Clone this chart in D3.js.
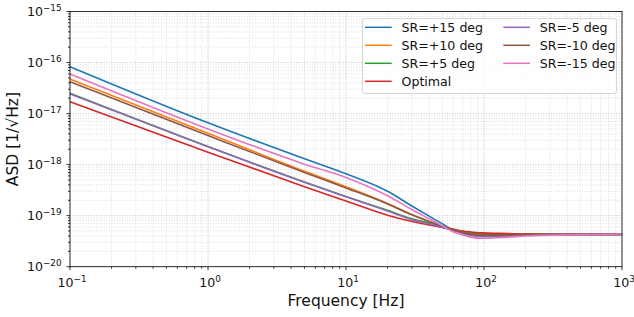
<!DOCTYPE html>
<html>
<head>
<meta charset="utf-8">
<script src="https://cdn.jsdelivr.net/npm/d3@7"></script>
<style>
  body { margin: 0; background: #fff; }
  svg { font-family: "DejaVu Sans", sans-serif; }
</style>
</head>
<body>
<script>
const freqs = [0.1, 1, 5, 10, 20, 30, 40, 50, 60, 70, 80, 100, 150, 200, 500, 1000];

const srP15 = [8.3e-17, 6.6e-18, 1.3e-18, 6.6e-19, 3.0e-19, 1.55e-19, 9.8e-20, 6.9e-20, 5.25e-20, 4.7e-20, 4.4e-20, 4.3e-20, 4.3e-20, 4.3e-20, 4.3e-20, 4.3e-20];
const srP10 = [4.75e-17, 4.1e-18, 7.4e-19, 3.7e-19, 1.74e-19, 1.05e-19, 7.7e-20, 6.2e-20, 5.4e-20, 4.9e-20, 4.5e-20, 4.3e-20, 4.3e-20, 4.3e-20, 4.3e-20, 4.3e-20];
const srP5  = [2.5e-17, 2.26e-18, 4.55e-19, 2.37e-19, 1.27e-19, 8.7e-20, 7.2e-20, 6.0e-20, 5.2e-20, 4.7e-20, 4.5e-20, 4.3e-20, 4.3e-20, 4.3e-20, 4.3e-20, 4.3e-20];
const optimal = [1.71e-17, 1.74e-18, 3.7e-19, 1.94e-19, 1.02e-19, 7.7e-20, 6.6e-20, 5.9e-20, 5.4e-20, 5.0e-20, 4.8e-20, 4.6e-20, 4.45e-20, 4.35e-20, 4.3e-20, 4.3e-20];
const srM5  = [2.42e-17, 2.24e-18, 4.5e-19, 2.34e-19, 1.23e-19, 8.3e-20, 6.9e-20, 5.9e-20, 5.1e-20, 4.5e-20, 4.1e-20, 3.85e-20, 3.9e-20, 4.1e-20, 4.3e-20, 4.3e-20];
const srM10 = [4.2e-17, 3.7e-18, 7.0e-19, 3.5e-19, 1.7e-19, 1.04e-19, 7.7e-20, 6.2e-20, 5.3e-20, 4.7e-20, 4.3e-20, 4.1e-20, 4.15e-20, 4.2e-20, 4.3e-20, 4.3e-20];
const srM15 = [5.96e-17, 5.0e-18, 1.02e-18, 5.6e-19, 2.45e-19, 1.32e-19, 8.7e-20, 6.3e-20, 4.8e-20, 4.2e-20, 3.8e-20, 3.6e-20, 3.8e-20, 4.0e-20, 4.25e-20, 4.3e-20];

const seriesNames = ["SR=+15 deg", "SR=+10 deg", "SR=+5 deg", "Optimal", "SR=-5 deg", "SR=-10 deg", "SR=-15 deg"];
const seriesVals = [srP15, srP10, srP5, optimal, srM5, srM10, srM15];
const colors = ["#1f77b4", "#ff7f0e", "#2ca02c", "#d62728", "#9467bd", "#8c564b", "#e377c2"];

const xTickExp = [-1, 0, 1, 2, 3];
const yTickExp = [-20, -19, -18, -17, -16, -15];

const width = 634, height = 317;
const mLeft = 70, mRight = 622, mTop = 11.5, mBottom = 266.7;

const svg = d3.select("body").append("svg")
    .attr("width", width).attr("height", height);

const x = d3.scaleLog().domain([0.1, 1000]).range([mLeft, mRight]);
const y = d3.scaleLog().domain([1e-20, 1e-15]).range([mBottom, mTop]);

const isPow = d => Math.abs(Math.log10(d) - Math.round(Math.log10(d))) < 1e-6;
const xMinor = x.ticks().filter(d => !isPow(d));
const yMinor = y.ticks().filter(d => !isPow(d));
const xMajor = xTickExp.map(e => Math.pow(10, e));
const yMajor = yTickExp.map(e => Math.pow(10, e));

// grid
let grid = svg.append("g");
grid.selectAll(".xmin").data(xMinor).enter().append("line")
    .attr("x1", d => x(d)).attr("x2", d => x(d)).attr("y1", mTop).attr("y2", mBottom)
    .attr("stroke", "#d6d6d6").attr("stroke-width", 0.8).attr("stroke-dasharray", "1,1.6");
grid.selectAll(".ymin").data(yMinor).enter().append("line")
    .attr("y1", d => y(d)).attr("y2", d => y(d)).attr("x1", mLeft).attr("x2", mRight)
    .attr("stroke", "#d6d6d6").attr("stroke-width", 0.8).attr("stroke-dasharray", "1,1.6");
grid.selectAll(".xmaj").data(xMajor).enter().append("line")
    .attr("x1", d => x(d)).attr("x2", d => x(d)).attr("y1", mTop).attr("y2", mBottom)
    .attr("stroke", "#b0b0b0").attr("stroke-width", 0.8).attr("stroke-dasharray", "1,1.6");
grid.selectAll(".ymaj").data(yMajor).enter().append("line")
    .attr("y1", d => y(d)).attr("y2", d => y(d)).attr("x1", mLeft).attr("x2", mRight)
    .attr("stroke", "#b0b0b0").attr("stroke-width", 0.8).attr("stroke-dasharray", "1,1.6");

// curves
const line = d3.line()
    .x(d => x(d[0]))
    .y(d => y(d[1]))
    .curve(d3.curveMonotoneX);

svg.append("g").selectAll("path")
    .data(seriesVals)
    .enter().append("path")
    .attr("d", vals => line(freqs.map((f, i) => [f, vals[i]])))
    .attr("fill", "none")
    .attr("stroke", (d, i) => colors[i])
    .attr("stroke-width", 1.6);

// ticks
let ticks = svg.append("g").attr("stroke", "#000").attr("stroke-width", 0.8);
ticks.selectAll(".xt").data(xMinor).enter().append("line")
    .attr("x1", d => x(d)).attr("x2", d => x(d)).attr("y1", mBottom).attr("y2", mBottom + 2);
ticks.selectAll(".xT").data(xMajor).enter().append("line")
    .attr("x1", d => x(d)).attr("x2", d => x(d)).attr("y1", mBottom).attr("y2", mBottom + 3.5);
ticks.selectAll(".yt").data(yMinor).enter().append("line")
    .attr("y1", d => y(d)).attr("y2", d => y(d)).attr("x1", mLeft).attr("x2", mLeft - 2);
ticks.selectAll(".yT").data(yMajor).enter().append("line")
    .attr("y1", d => y(d)).attr("y2", d => y(d)).attr("x1", mLeft).attr("x2", mLeft - 3.5);

// frame
svg.append("rect")
    .attr("x", mLeft).attr("y", mTop)
    .attr("width", mRight - mLeft).attr("height", mBottom - mTop)
    .attr("fill", "none").attr("stroke", "#000").attr("stroke-width", 0.8);

// tick labels
function powLabel(sel, exp) {
    sel.append("tspan").text("10");
    sel.append("tspan").text(exp < 0 ? "\u2212" + Math.abs(exp) : String(exp))
        .attr("font-size", 8.8).attr("dy", -5.4);
}

svg.append("g").selectAll("text")
    .data(xTickExp).enter().append("text")
    .attr("x", d => x(Math.pow(10, d)) + 2)
    .attr("y", mBottom + 20.5)
    .attr("text-anchor", "middle")
    .attr("font-size", 12.6)
    .attr("fill", "#111")
    .each(function (d) { powLabel(d3.select(this), d); });

svg.append("g").selectAll("text")
    .data(yTickExp).enter().append("text")
    .attr("x", mLeft - 8.5)
    .attr("y", d => y(Math.pow(10, d)) + 4.5)
    .attr("text-anchor", "end")
    .attr("font-size", 12.6)
    .attr("fill", "#111")
    .each(function (d) { powLabel(d3.select(this), d); });

// axis labels
svg.append("text")
    .attr("x", (mLeft + mRight) / 2).attr("y", 306)
    .attr("text-anchor", "middle")
    .attr("font-size", 15.5)
    .attr("fill", "#111")
    .text("Frequency [Hz]");

svg.append("text")
    .attr("transform", `translate(17.5, ${(mTop + mBottom) / 2}) rotate(-90)`)
    .attr("text-anchor", "middle")
    .attr("font-size", 15.5)
    .attr("fill", "#111")
    .text("ASD [1/\u221AHz]");

// legend
let legend = svg.append("g");
legend.append("rect")
    .attr("x", 362.5).attr("y", 18.5)
    .attr("width", 254).attr("height", 75)
    .attr("rx", 2.5)
    .attr("fill", "#fff").attr("fill-opacity", 0.8)
    .attr("stroke", "#cccccc").attr("stroke-width", 0.8);

const legendCols = [365, 503.3];
const legendRows = [27.3, 45.3, 63.3, 81.3];

seriesNames.forEach((name, i) => {
    const col = i < 4 ? 0 : 1;
    const row = i < 4 ? i : i - 4;
    const lx = legendCols[col], ly = legendRows[row];
    legend.append("line")
        .attr("x1", lx).attr("x2", lx + 26.7)
        .attr("y1", ly).attr("y2", ly)
        .attr("stroke", colors[i]).attr("stroke-width", 1.5);
    legend.append("text")
        .attr("x", lx + 36.5).attr("y", ly + 4.6)
        .attr("font-size", 12.6)
        .attr("fill", "#111")
        .text(name);
});
</script>
</body>
</html>
